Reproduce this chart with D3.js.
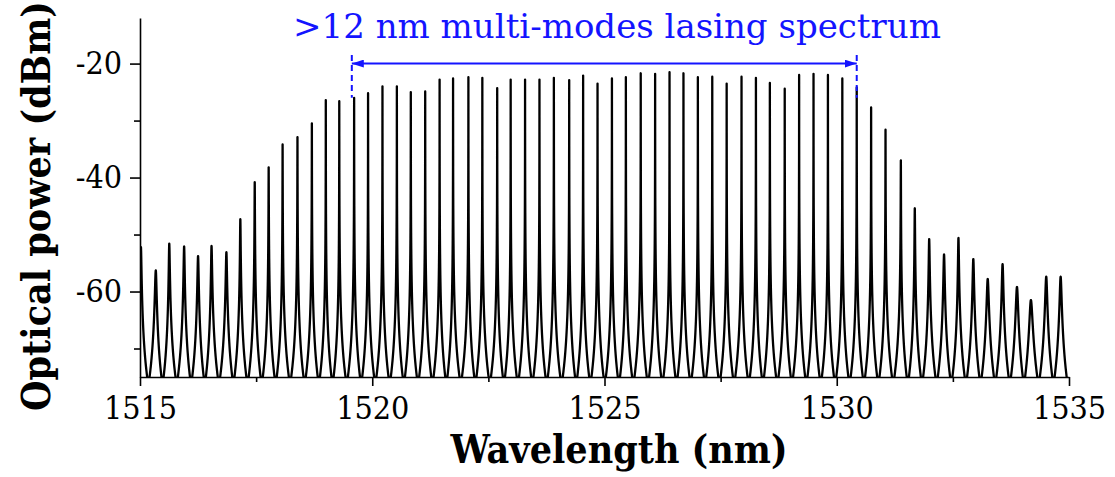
<!DOCTYPE html>
<html>
<head>
<meta charset="utf-8">
<script src="https://cdn.jsdelivr.net/npm/d3@7"></script>
<style>
  body { margin: 0; background: #fff; }
  svg { display: block; }
  .axis path, .axis line { stroke: #000; stroke-width: 1.6px; }
  .axis text { font-family: 'DejaVu Serif Condensed', 'DejaVu Serif', serif; font-size: 32px; fill: #000; }
  .label { font-family: 'DejaVu Serif Condensed', 'DejaVu Serif', serif; font-weight: bold; font-size: 39px; fill: #000; }
  .note { font-family: 'DejaVu Serif', serif; font-size: 34px; fill: #1414ff; }
</style>
</head>
<body>
<svg id="chart"></svg>
<script>
// lasing modes: centre wavelength (nm) and peak power (dBm)
const peakWavelengths = [
  1515.02, 1515.34, 1515.63, 1515.95, 1516.25, 1516.54, 1516.86, 1517.16, 1517.47, 1517.77,
  1518.07, 1518.39, 1518.70, 1519.00, 1519.29, 1519.61, 1519.91, 1520.22, 1520.53, 1520.83,
  1521.14, 1521.45, 1521.74, 1522.07, 1522.37, 1522.69, 1522.98, 1523.29, 1523.60, 1523.91,
  1524.24, 1524.54, 1524.85, 1525.16, 1525.46, 1525.78, 1526.09, 1526.40, 1526.70, 1527.01,
  1527.32, 1527.63, 1527.95, 1528.26, 1528.56, 1528.88, 1529.19, 1529.50, 1529.81, 1530.12,
  1530.43, 1530.74, 1531.05, 1531.38, 1531.68, 1531.99, 1532.31, 1532.62, 1532.94, 1533.25,
  1533.57, 1533.88, 1534.18, 1534.51, 1534.82
]
const peakPowers = [
  -52.2, -56.3, -51.6, -52.1, -53.8, -52.0, -53.1, -47.3, -40.8, -38.2,
  -34.2, -32.9, -30.5, -26.4, -26.6, -26.0, -25.2, -24.0, -24.0, -25.0,
  -24.9, -22.8, -22.6, -22.4, -22.5, -24.3, -22.8, -22.8, -22.8, -22.5,
  -22.9, -22.1, -23.5, -22.6, -22.4, -21.7, -21.8, -21.5, -21.7, -22.4,
  -22.3, -23.5, -22.3, -22.5, -23.4, -24.4, -22.0, -21.8, -22.0, -22.6,
  -24.2, -27.7, -31.6, -37.0, -45.4, -50.8, -53.5, -50.6, -54.3, -57.8,
  -55.2, -59.2, -61.5, -57.4, -57.4
]
const xTicks = [1515, 1520, 1525, 1530, 1535]
const xMinorTicks = [1517.5, 1522.5, 1527.5, 1532.5]
const yTicks = [-20, -40, -60]
const yMinorTicks = [-30, -50, -70]
// span marked as lasing band
const bandEdges = [1519.56, 1530.43]
const bandArrowLevel = -20
const bandNote = '>12 nm multi-modes lasing spectrum'

const width = 1115
const height = 477
const margin = { top: 18, right: 46, bottom: 100, left: 140 }
const w = width - margin.left - margin.right
const h = height - margin.top - margin.bottom
const blue = '#1414ff'

const x = d3.scaleLinear().domain([1515, 1535]).range([0, w])
const y = d3.scaleLinear().domain([-75, -12]).range([h, 0])

// each mode drawn as a lorentzian skirt falling to the floor halfway to its neighbours
const floorDb = -76.5
const steps = 80
const spectrum = []
const n = peakWavelengths.length
peakWavelengths.forEach((wl, i) => {
  const prev = i > 0 ? peakWavelengths[i - 1] : wl - (peakWavelengths[1] - peakWavelengths[0])
  const next = i < n - 1 ? peakWavelengths[i + 1] : wl + (wl - peakWavelengths[i - 1])
  const p = peakPowers[i]
  const k = Math.sqrt(Math.pow(10, (p - floorDb) / 10) - 1)
  for (let s = -steps; s <= steps; s++) {
    const half = s < 0 ? (wl - prev) / 2 : (next - wl) / 2
    const u = s / steps
    const d = Math.sign(u) * half * u * u
    const gamma = half / k
    spectrum.push([wl + d, p - 10 * Math.log10(1 + (d / gamma) * (d / gamma))])
  }
})

const svg = d3.select('#chart')
  .attr('width', width)
  .attr('height', height)

const defs = svg.append('defs')
defs.append('clipPath')
  .attr('id', 'plot-clip')
  .append('rect')
  .attr('width', w)
  .attr('height', h)

defs.append('marker')
  .attr('id', 'arrow')
  .attr('viewBox', '0 0 12 8')
  .attr('refX', 12)
  .attr('refY', 4)
  .attr('markerUnits', 'userSpaceOnUse')
  .attr('markerWidth', 12)
  .attr('markerHeight', 8)
  .attr('orient', 'auto-start-reverse')
  .append('path')
  .attr('d', 'M0,0L12,4L0,8Z')
  .attr('fill', blue)

const g = svg.append('g')
  .attr('transform', `translate(${margin.left},${margin.top})`)

const line = d3.line()
  .x(d => x(d[0]))
  .y(d => y(d[1]))

g.append('path')
  .datum(spectrum)
  .attr('clip-path', 'url(#plot-clip)')
  .attr('d', line)
  .attr('fill', 'none')
  .attr('stroke', '#000')
  .attr('stroke-width', 2.3)
  .attr('stroke-linejoin', 'round')

// axes
g.append('g')
  .attr('class', 'axis')
  .attr('transform', `translate(0,${h})`)
  .call(d3.axisBottom(x).tickValues(xMinorTicks).tickSize(5).tickSizeOuter(0).tickFormat(''))
  .call(a => a.select('.domain').remove())

g.append('g')
  .attr('class', 'axis')
  .attr('transform', `translate(0,${h})`)
  .call(d3.axisBottom(x).tickValues(xTicks).tickSize(9).tickSizeOuter(0).tickPadding(10).tickFormat(d => String(d)))

g.append('g')
  .attr('class', 'axis')
  .call(d3.axisLeft(y).tickValues(yMinorTicks).tickSize(6).tickSizeOuter(0).tickFormat(''))
  .call(a => a.select('.domain').remove())

g.append('g')
  .attr('class', 'axis')
  .call(d3.axisLeft(y).tickValues(yTicks).tickSize(10).tickSizeOuter(0).tickPadding(8).tickFormat(d => String(d)))

svg.append('text')
  .attr('class', 'label')
  .attr('x', 619)
  .attr('y', 463)
  .attr('text-anchor', 'middle')
  .text('Wavelength (nm)')

svg.append('text')
  .attr('class', 'label')
  .attr('transform', 'translate(50,206) rotate(-90)')
  .attr('text-anchor', 'middle')
  .text('Optical power (dBm)')

// lasing band annotation
g.selectAll('.band-edge')
  .data(bandEdges)
  .enter().append('line')
  .attr('class', 'band-edge')
  .attr('x1', d => x(d))
  .attr('x2', d => x(d))
  .attr('y1', y(-18.5))
  .attr('y2', y(-26))
  .attr('stroke', blue)
  .attr('stroke-width', 2)
  .attr('stroke-dasharray', '6,4')

g.append('line')
  .attr('x1', x(bandEdges[0]))
  .attr('x2', x(bandEdges[1]))
  .attr('y1', y(bandArrowLevel))
  .attr('y2', y(bandArrowLevel))
  .attr('stroke', blue)
  .attr('stroke-width', 2)
  .attr('marker-start', 'url(#arrow)')
  .attr('marker-end', 'url(#arrow)')

svg.append('text')
  .attr('class', 'note')
  .attr('x', 617)
  .attr('y', 38)
  .attr('text-anchor', 'middle')
  .text(bandNote)
</script>
</body>
</html>
